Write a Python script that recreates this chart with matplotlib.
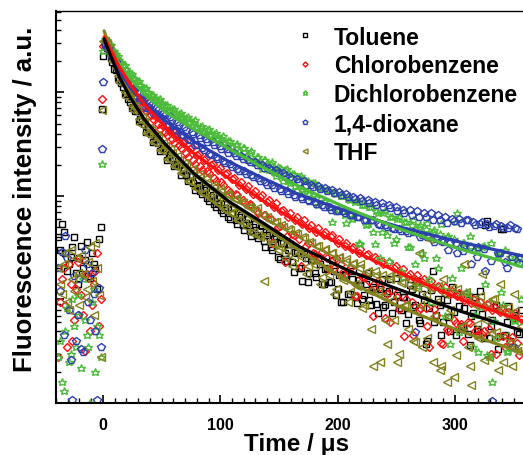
import matplotlib
matplotlib.use('Agg')
import matplotlib.pyplot as plt
from matplotlib.ticker import FixedLocator, MultipleLocator, LogLocator, NullFormatter

plt.rcParams['font.family'] = ['Liberation Sans', 'DejaVu Sans']
plt.rcParams['font.weight'] = 'bold'

# ---------------- data ----------------
time_us = [-38, -35, -32, -29, -26, -23, -20, -17, -14, -11, -8, -5, -2,
           -1, 0,
           2, 5, 8, 11, 14, 17, 20, 23, 26, 29, 32, 35, 38, 41, 44, 47, 50, 53, 56, 59,
           62, 65, 68, 71, 74, 77, 80, 83, 86, 89, 92, 95, 98, 101, 104, 107, 110, 113, 116, 119,
           122, 125, 128, 131, 134, 137, 140, 143, 146, 149, 152, 155, 158, 161, 164, 167, 170, 173, 176, 179,
           182, 185, 188, 191, 194, 197, 200, 203, 206, 209, 212, 215, 218, 221, 224, 227, 230, 233, 236, 239,
           242, 245, 248, 251, 254, 257, 260, 263, 266, 269, 272, 275, 278, 281, 284, 287, 290, 293, 296, 299,
           302, 305, 308, 311, 314, 317, 320, 323, 326, 329, 332, 335, 338, 341, 344, 347, 350, 353, 356,
           -36.5, -33.5, -30.5, -27.5, -24.5, -21.5, -18.5, -15.5, -12.5, -9.5, -6.5, -3.5,
           3.5, 6.5, 9.5, 12.5, 15.5, 18.5, 21.5, 24.5, 27.5, 30.5,
           33.5, 36.5, 39.5, 42.5, 45.5, 48.5, 51.5, 54.5, 57.5, 60.5,
           63.5, 66.5, 69.5, 72.5, 75.5, 78.5, 81.5, 84.5, 87.5, 90.5,
           93.5, 96.5, 99.5, 102.5, 105.5, 108.5, 111.5, 114.5, 117.5, 120.5,
           123.5, 126.5, 129.5, 132.5, 135.5, 138.5, 141.5, 144.5, 147.5, 150.5,
           153.5, 156.5, 159.5, 162.5, 165.5, 168.5, 171.5, 174.5, 177.5, 180.5,
           183.5, 186.5, 189.5, 192.5, 195.5, 198.5, 201.5, 204.5, 207.5, 210.5,
           213.5, 216.5, 219.5, 222.5, 225.5, 228.5, 231.5, 234.5, 237.5, 240.5,
           243.5, 246.5, 249.5, 252.5, 255.5, 258.5, 261.5, 264.5, 267.5, 270.5,
           273.5, 276.5, 279.5, 282.5, 285.5, 288.5, 291.5, 294.5, 297.5, 300.5,
           303.5, 306.5, 309.5, 312.5, 315.5, 318.5, 321.5, 324.5, 327.5, 330.5,
           333.5, 336.5, 339.5, 342.5, 345.5, 348.5, 351.5, 354.5]

toluene = [40, 54, 28, 22, 32, 18, 25, 20, 36, 16, 22, 12.6, 50,
           690, 2240,
           2950, 2450, 1950, 1660, 1320, 1120, 977, 813, 724, 661,
           550, 501, 457, 398, 380, 324, 309, 269, 251, 234,
           204, 200, 178, 158, 155, 132, 126, 112, 115, 95,
           98, 83, 85, 74, 76, 63, 68, 58, 62, 52,
           55, 46, 50, 42, 46, 37, 42, 32, 38, 26,
           35, 28, 30, 23, 29, 20, 15, 25, 18, 24,
           16.6, 22, 14, 20, 14.8, 19, 12.6, 9.5, 17.8, 11.2,
           15.8, 10.5, 15.5, 10, 14.1, 9.8, 13.2, 9.1, 12.6, 8.5,
           11.5, 15.8, 9.5, 11, 7.9, 10.5, 7.2, 12.6, 8.9, 6.3,
           11.2, 3.7, 8.3, 19, 7.1, 8.9, 6.0, 9.8, 5.0, 7.6,
           11.2, 5.5, 8.3, 4.6, 6.9, 10.5, 5.0, 7.2, 52, 4.2,
           6.3, 8.9, 4.4, 48, 6.0, 4.0, 7.1, 4.8, 7.9,
           30, 45, 19, 26, 40, 14, 33, 24, 17, 28, 20, 38,
           2660, 2140, 1700, 1380, 1230, 977, 871, 708, 661, 525,
           525, 417, 417, 331, 355, 269, 288, 224, 251, 195,
           204, 158, 178, 138, 155, 115, 129, 105, 120, 89,
           102, 78, 95, 69, 83, 60, 76, 54, 66, 47,
           60, 41, 54, 39, 51, 32, 44, 30, 41, 24.5,
           35, 23.4, 34, 18.6, 28, 20, 27.5, 14.8, 24, 18.2,
           25, 14.1, 19.5, 14.8, 24, 11, 17.4, 9.5, 17.4, 11.2,
           19, 9.3, 13.8, 11, 18.2, 8.9, 12.6, 7.4, 15.8, 8.9,
           12, 7.4, 16.2, 8.3, 10.5, 5.9, 13.8, 8.5, 15.1, 5.9,
           9.8, 4.0, 12.3, 6.0, 10.2, 4.5, 11.5, 6.8, 13.2, 4.5,
           8.7, 5.4, 11.2, 3.6, 7.4, 5.2, 12, 4.2, 57, 5.6,
           8.5, 3.3, 48, 4.5, 8.7, 3.5, 6.6, 4.6]

chlorobenzene = [2.8, 15.8, 8.9, 22, 4.0, 12.6, 25, 7.1, 17.8, 5.0, 14.1, 28, 10,
                 870, 2820,
                 3160, 2750, 2290, 2000, 1700, 1510, 1320, 1120, 1050, 912,
                 851, 724, 692, 603, 589, 501, 490, 417, 427, 355,
                 372, 309, 324, 263, 282, 224, 251, 195, 224, 174,
                 200, 148, 178, 135, 162, 115, 145, 105, 129, 91,
                 117, 83, 105, 72, 98, 66, 87, 60, 79, 50,
                 72, 23, 63, 43, 59, 38, 54, 33, 49, 28,
                 45, 26, 42, 25, 40, 20, 35, 22, 33, 19,
                 31, 10.7, 28, 16.6, 27, 15, 6.9, 24, 13.2, 22,
                 11.2, 6.0, 20, 10.5, 18.2, 4.4, 17, 9.5, 15.8, 7.9,
                 14.8, 8.3, 3.5, 13.2, 7.1, 12.6, 3.7, 5.2, 11.2, 6.3,
                 10.7, 5.8, 9.8, 6.0, 9.3, 5.0, 8.9, 4.6, 8.5, 5.2,
                 7.9, 3.0, 7.6, 4.4, 7.2, 4.0, 6.8, 3.8, 6.5,
                 9.5, 20, 3.5, 14, 6.3, 23, 11, 3.2, 16, 8.9, 19, 5.6,
                 3020, 2450, 2290, 1780, 1700, 1320, 1320, 1050, 1070, 813,
                 851, 661, 724, 550, 603, 447, 525, 389, 447, 324,
                 398, 288, 339, 240, 295, 204, 257, 178, 234, 166,
                 204, 141, 186, 129, 166, 110, 148, 102, 135, 87,
                 126, 81, 112, 69, 102, 66, 91, 35, 85, 51,
                 74, 41, 69, 42, 62, 21, 58, 35, 52, 27.5,
                 49, 29, 45, 19.5, 42, 25, 38, 18.6, 35, 20,
                 32, 10.7, 31, 16.6, 27.5, 12.3, 26, 15.1, 23.4, 6.6,
                 23, 12.3, 21, 8.1, 19.5, 10.2, 17.8, 4.5, 17.4, 8.3,
                 15.8, 5.5, 15.1, 8.1, 13.5, 3.8, 13.2, 5.0, 12, 5.9,
                 11.5, 4.0, 10.5, 5.9, 10.2, 4.5, 9.5, 5.0, 9.1, 3.0,
                 8.5, 4.3, 8.3, 3.5, 7.6, 4.3, 7.4, 2.9]

dichlorobenzene = [2.8, 1.6, 5.0, 2.5, 10, 3.5, 7.1, 15.8, 4.5, 1.0, 12.6, 5.6, 2.8,
                   204, 2510,
                   3310, 2950, 2570, 2340, 2040, 1860, 1700, 1550, 1380, 1290,
                   1170, 1100, 1000, 955, 891, 851, 794, 759, 676, 692,
                   631, 617, 562, 562, 513, 513, 468, 468, 417, 437,
                   389, 398, 355, 363, 324, 339, 295, 309, 269, 288,
                   245, 263, 224, 240, 200, 224, 186, 204, 170, 191,
                   155, 178, 141, 162, 126, 151, 115, 138, 105, 132,
                   95, 120, 89, 115, 79, 107, 74, 100, 66, 93,
                   60, 87, 35, 81, 52, 78, 45, 72, 25, 68,
                   42, 63, 35, 60, 19, 56, 32, 52, 22, 50,
                   28, 48, 15.8, 45, 25, 43, 12.6, 40, 3.7, 38,
                   68, 20, 35, 11.2, 33, 7.1, 3.1, 32, 14.1, 2.8,
                   1.6, 4.2, 28, 8.9, 3.1, 26, 6.3, 24, 10,
                   4.0, 1.3, 8.3, 3.0, 5.6, 11, 2.2, 6.3, 3.5, 9.5, 2.0, 4.5,
                   3240, 2880, 2510, 2240, 1950, 1860, 1580, 1510, 1350, 1290,
                   1120, 1100, 977, 955, 851, 871, 759, 759, 661, 692,
                   603, 631, 537, 575, 490, 537, 437, 479, 398, 447,
                   363, 407, 331, 380, 302, 339, 269, 316, 251, 288,
                   224, 269, 209, 240, 182, 224, 178, 214, 155, 186,
                   138, 182, 132, 162, 115, 155, 110, 141, 98, 132,
                   81, 120, 89, 115, 56, 105, 74, 100, 55, 91,
                   63, 89, 34, 81, 54, 78, 34, 69, 45, 72,
                   23.4, 62, 38, 63, 16.6, 56, 32, 59, 13.5, 52,
                   25, 55, 9.5, 47, 20, 54, 6.9, 41, 16.2, 56,
                   4.9, 35, 11.7, 41, 3.5, 31, 8.5, 33, 2.9, 35,
                   6.2, 27, 11.7, 30, 3.2, 23.4, 6.2, 25.7]

dioxane = [20, 29, 41, 7.9, 1.07, 4.0, 15.8, 3.1, 22, 6.3, 11.2, 1.07, 3.5,
           282, 1260,
           2880, 2630, 2140, 1950, 1620, 1510, 1290, 1200, 1050, 1000,
           871, 851, 724, 759, 631, 676, 562, 603, 490, 537,
           437, 490, 389, 437, 347, 398, 309, 363, 275, 331,
           251, 309, 229, 282, 209, 263, 191, 245, 174, 229,
           162, 214, 151, 200, 138, 186, 129, 178, 120, 166,
           112, 155, 105, 145, 98, 135, 93, 129, 89, 123,
           83, 117, 79, 112, 74, 107, 71, 102, 68, 98,
           65, 93, 62, 89, 59, 85, 58, 81, 52, 79,
           50, 76, 48, 72, 46, 69, 44, 66, 4.9, 63,
           42, 62, 40, 59, 38, 58, 36, 55, 35, 57,
           28, 55, 33, 59, 22, 52, 32, 56, 19, 50,
           1.05, 54, 28, 49, 20, 52, 3.5, 48, 25,
           12, 4.5, 25, 2.6, 17, 7.1, 3.3, 30, 9.5, 18, 5.0, 13,
           2750, 2290, 2040, 1700, 1580, 1290, 1290, 1020, 1070, 851,
           891, 708, 794, 631, 708, 562, 631, 479, 575, 437,
           513, 389, 468, 355, 417, 309, 389, 288, 355, 257,
           331, 240, 302, 219, 282, 204, 263, 182, 245, 174,
           224, 158, 214, 148, 200, 135, 186, 129, 178, 117,
           166, 112, 151, 102, 145, 98, 138, 91, 129, 87,
           126, 81, 120, 78, 115, 72, 110, 71, 105, 65,
           98, 63, 95, 59, 91, 58, 87, 54, 85, 52,
           81, 49, 78, 48, 74, 46, 74, 45, 71, 40,
           69, 40, 68, 36, 65, 37, 63, 30, 60, 35,
           60, 29.5, 58, 32, 56, 26, 54, 31, 54, 23.4,
           51, 28, 51, 23, 49, 26, 49, 22.4]

thf = [20, 11.2, 28, 7.9, 15.8, 25, 8.9, 17.8, 12.6, 32, 7.1, 20, 2.8,
       676, 3160,
       3160, 2630, 2000, 1740, 1260, 1200, 912, 871, 676, 676,
       501, 513, 398, 437, 331, 363, 275, 302, 229, 263,
       195, 224, 166, 195, 138, 170, 120, 151, 107, 135,
       93, 123, 83, 112, 74, 102, 68, 93, 58, 85,
       50, 78, 45, 76, 40, 15.1, 63, 35, 56, 30,
       52, 25, 48, 21, 44, 28, 40, 17.8, 36, 24,
       33, 14.1, 30, 20, 28, 11.2, 25, 16.6, 23, 9.5,
       22, 14.1, 20, 8.3, 18.6, 12, 2.3, 17.4, 2.5, 10.5,
       3.7, 15.8, 6.3, 2.5, 14.5, 8.9, 5.2, 13.2, 3.9, 28,
       3.5, 11.2, 38, 2.5, 9.5, 2.1, 15.8, 1.6, 7.9, 1.8,
       12.6, 5.6, 22, 3.5, 1.5, 8.9, 4.2, 17.8, 6.3, 2.8,
       10, 4.8, 14.1, 2.5, 7.1, 3.8, 11.2, 3.2, 5.6,
       14, 22, 9.5, 30, 12, 18, 27, 10.5, 23, 15, 35, 11,
       2950, 2290, 1950, 1450, 1320, 1020, 977, 741, 741, 550,
       575, 407, 457, 331, 389, 275, 324, 229, 282, 195,
       245, 166, 209, 141, 182, 120, 162, 107, 148, 98,
       129, 87, 117, 76, 105, 68, 93, 58, 87, 55,
       78, 44, 72, 42, 66, 40, 59, 34, 56, 32,
       50, 30, 47, 25.7, 43, 26, 39, 21, 35, 21.4,
       33, 16.6, 31, 17.4, 28, 12.6, 25.7, 15.5, 24.5, 11.7,
       22.4, 13.5, 22, 8.9, 19, 5.2, 19, 12, 17.4, 6.3,
       17, 9.8, 17.8, 3.0, 14.8, 8.9, 15.5, 4.0, 12.9, 8.9,
       14.1, 4.2, 12.9, 6.9, 13.5, 2.3, 11.2, 6.9, 12.9, 2.9,
       10.5, 5.5, 11.7, 2.3, 10, 5.8, 10.7, 2.6, 9.1, 4.7,
       10, 2.1, 8.1, 4.4, 8.5, 2.3, 7.8, 3.5]

# fitted decay curves
fit_time = [1, 7, 14, 23, 35, 53, 78, 108, 134, 168, 210, 253, 304, 358]
fit_toluene = [3290, 2200, 1410, 906, 555, 318, 163, 87.5, 57.3, 32.1, 18.8, 12.4, 7.74, 4.97]
fit_chlorobenzene = [3440, 2520, 1760, 1210, 774, 465, 255, 146, 93.5, 53.6, 30.8, 18.0, 10.1, 6.2]
fit_dichlorobenzene = [3290, 2520, 1880, 1380, 966, 649, 437, 284, 195, 122, 74.8, 48.0, 30.8, 20.6]
fit_dioxane = [3150, 2250, 1610, 1130, 774, 531, 333, 213, 153, 102, 70.0, 50.1, 36.0, 26.3]
fit_thf = [3930, 2510, 1540, 968, 555, 311, 160, 85.1, 53.7, 29.4, 14.8, 8.47, 4.97, 3.04]

labels = ['Toluene', 'Chlorobenzene', 'Dichlorobenzene', '1,4-dioxane', 'THF']
x_ticks = [0, 100, 200, 300]

# ---------------- figure ----------------
fig = plt.figure(figsize=(5.23, 4.56), dpi=100)
ax = fig.add_axes([56 / 523, 1 - 404 / 456, 467 / 523, 392 / 456])

colors = ['#000000', '#ff1010', '#4cbb3a', '#2b3fae', '#82821e']
markers = ['s', 'D', '*', 'p', '<']
msizes = [4.6, 4.3, 6.2, 5.8, 6.0]
datasets = [toluene, chlorobenzene, dichlorobenzene, dioxane, thf]
fits = [fit_toluene, fit_chlorobenzene, fit_dichlorobenzene, fit_dioxane, fit_thf]

handles = []
for y, m, c, ms, lab in zip(datasets, markers, colors, msizes, labels):
    h, = ax.plot(time_us, y, ls='none', marker=m, ms=ms, mfc='none', mec=c,
                 mew=1.0, label=lab, zorder=2)
    handles.append(h)

for idx in [4, 3, 2, 1, 0]:
    ax.plot(fit_time, fits[idx], color=colors[idx], lw=2.3, zorder=3,
            solid_capstyle='round')

ax.set_yscale('log')
ax.set_xlim(-40, 358)
ax.set_ylim(1, 10 ** 3.787)

ax.xaxis.set_major_locator(FixedLocator(x_ticks))
ax.xaxis.set_minor_locator(MultipleLocator(10))
ax.yaxis.set_major_locator(LogLocator(base=10))
ax.yaxis.set_minor_locator(LogLocator(base=10, subs=[2, 3, 4, 5, 6, 7, 8, 9]))
ax.yaxis.set_major_formatter(NullFormatter())
ax.yaxis.set_minor_formatter(NullFormatter())

ax.tick_params(which='both', direction='in', top=False, right=False)
ax.tick_params(which='major', length=6, width=1.2, labelsize=11.5, pad=10)
ax.tick_params(which='minor', length=3.5, width=1.0)
for lab in ax.get_xticklabels():
    lab.set_fontweight('bold')

ax.spines['right'].set_visible(False)
ax.spines['left'].set_linewidth(1.5)
ax.spines['bottom'].set_linewidth(1.5)
ax.spines['top'].set_linewidth(1.0)

ax.set_xlabel('Time / μs', fontsize=17.5, fontweight='bold')
ax.xaxis.set_label_coords(0.516, -0.073)
ax.set_ylabel('Fluorescence intensity / a.u.', fontsize=18.5, fontweight='bold')
ax.yaxis.set_label_coords(-0.040, 0.523)

ax.legend(handles, labels, loc='upper left', bbox_to_anchor=(0.514, 0.963),
          frameon=False, prop={'weight': 'bold', 'size': 16.5},
          handlelength=0.8, handletextpad=0.85, labelspacing=0.255,
          borderpad=0, borderaxespad=0, markerscale=0.6)

fig.savefig('out.png', dpi=100)
